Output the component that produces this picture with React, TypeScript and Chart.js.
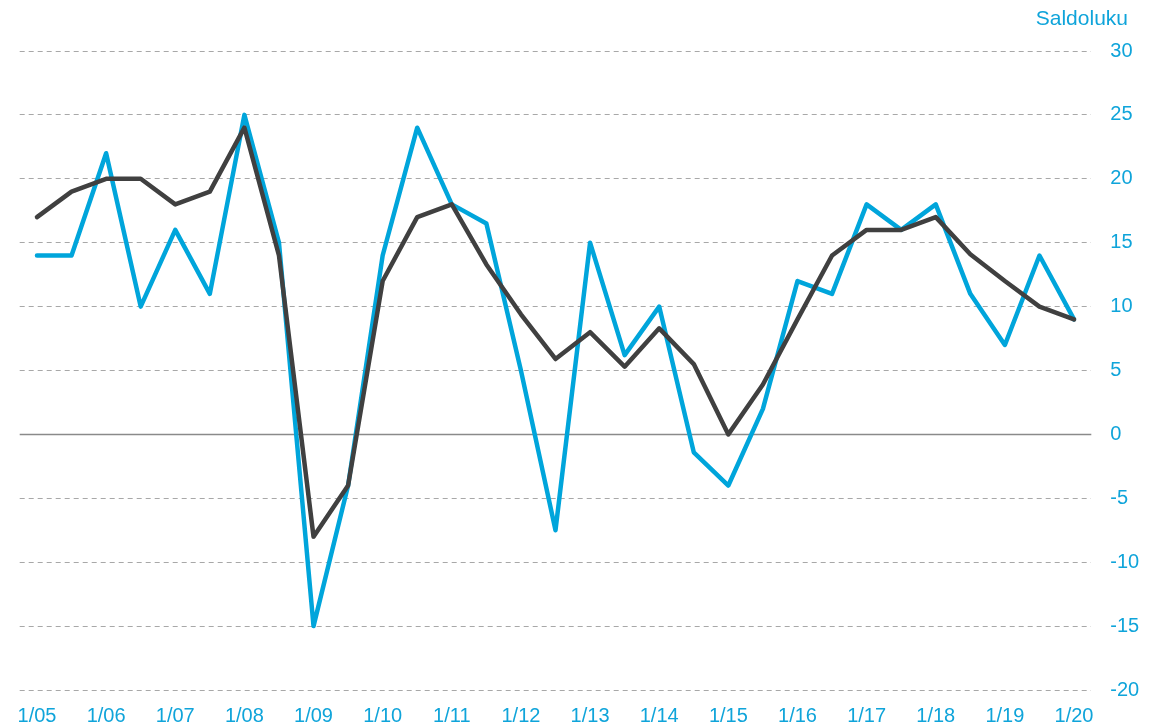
import React, { useEffect, useRef } from 'react';
import { Chart, registerables } from 'chart.js';

Chart.register(...registerables);

const periods = [
  '1/05', '7/05', '1/06', '7/06', '1/07', '7/07', '1/08', '7/08',
  '1/09', '7/09', '1/10', '7/10', '1/11', '7/11', '1/12', '7/12',
  '1/13', '7/13', '1/14', '7/14', '1/15', '7/15', '1/16', '7/16',
  '1/17', '7/17', '1/18', '7/18', '1/19', '7/19', '1/20',
];

const blueValues = [
  14, 14, 22, 10, 16, 11, 25, 15,
  -15, -4, 14, 24, 18, 16.5, 5, -7.5,
  15, 6.2, 10, -1.4, -4, 2, 12, 11,
  18, 16, 18, 11, 7, 14, 9,
];

const darkValues = [
  17, 19, 20, 20, 18, 19, 24, 14,
  -8, -4, 12, 17, 18, 13.3, 9.4, 5.9,
  8, 5.3, 8.3, 5.5, 0, 3.9, 9, 14,
  16, 16, 17, 14.1, 12, 10, 9,
];

const yMin = -20;
const yMax = 30;
const yStep = 5;
const axisTitle = 'Saldoluku';

const BLUE = '#00a5db';
const TEXT_BLUE = '#0fa4da';
const DARK = '#404040';
const FONT = "'Liberation Sans', Arial, sans-serif";

export default function App() {
  const ref = useRef<HTMLCanvasElement | null>(null);

  useEffect(() => {
    if (!ref.current) return;

    const zeroLine = {
      id: 'zeroLine',
      beforeDatasetsDraw(chart: any) {
        const { ctx, chartArea, scales } = chart;
        const y = scales.y.getPixelForValue(0);
        ctx.save();
        ctx.strokeStyle = '#8a8a8a';
        ctx.lineWidth = 1.5;
        ctx.beginPath();
        ctx.moveTo(chartArea.left, y);
        ctx.lineTo(chartArea.right, y);
        ctx.stroke();
        ctx.restore();
      },
    };

    const titlePlugin = {
      id: 'axisTitle',
      afterDraw(chart: any) {
        const { ctx } = chart;
        ctx.save();
        ctx.font = `21px ${FONT}`;
        ctx.fillStyle = TEXT_BLUE;
        ctx.textAlign = 'right';
        ctx.textBaseline = 'alphabetic';
        ctx.fillText(axisTitle, 1120, 17);
        ctx.restore();
      },
    };

    const chart = new Chart(ref.current, {
      type: 'line',
      data: {
        labels: periods,
        datasets: [
          {
            label: 'dark',
            data: darkValues,
            borderColor: DARK,
            borderWidth: 4.5,
            pointRadius: 0,
            borderJoinStyle: 'round',
            borderCapStyle: 'round',
            tension: 0,
            order: 0,
          },
          {
            label: 'blue',
            data: blueValues,
            borderColor: BLUE,
            borderWidth: 4.5,
            pointRadius: 0,
            borderJoinStyle: 'round',
            borderCapStyle: 'round',
            tension: 0,
            order: 1,
          },
        ],
      },
      options: {
        animation: false,
        responsive: true,
        maintainAspectRatio: false,
        layout: { padding: { left: 11.7, right: 0, top: 43, bottom: 0 } },
        plugins: {
          legend: { display: false },
          tooltip: { enabled: false },
          title: { display: false },
        },
        scales: {
          x: {
            type: 'category',
            offset: true,
            grid: { display: false, drawTicks: false },
            border: { display: false },
            ticks: {
              autoSkip: false,
              maxRotation: 0,
              minRotation: 0,
              padding: 14,
              color: TEXT_BLUE,
              font: { family: FONT, size: 20 },
              callback: (_v: any, i: number) => (periods[i].startsWith('1/') ? periods[i] : ''),
            },
            afterFit: (scale: any) => {
              scale.height = 38;
              scale.paddingLeft = 0;
              scale.paddingRight = 0;
            },
          },
          y: {
            position: 'right',
            min: yMin,
            max: yMax,
            grid: {
              drawTicks: false,
              color: (ctx: any) => (ctx.tick && ctx.tick.value === 0 ? 'rgba(0,0,0,0)' : '#a8a8a8'),
              lineWidth: 1,
            },
            border: { display: false, dash: [5, 4] },
            ticks: {
              stepSize: yStep,
              padding: 19,
              color: TEXT_BLUE,
              font: { family: FONT, size: 20 },
            },
            afterFit: (scale: any) => {
              scale.width = 66.7;
            },
          },
        },
      },
      plugins: [zeroLine, titlePlugin],
    });

    return () => chart.destroy();
  }, []);

  return (
    <>
      <style>{`html, body { overflow: hidden; }`}</style>
      <div style={{ width: 1150, height: 720, position: 'relative' }}>
        <canvas ref={ref} />
      </div>
    </>
  );
}
